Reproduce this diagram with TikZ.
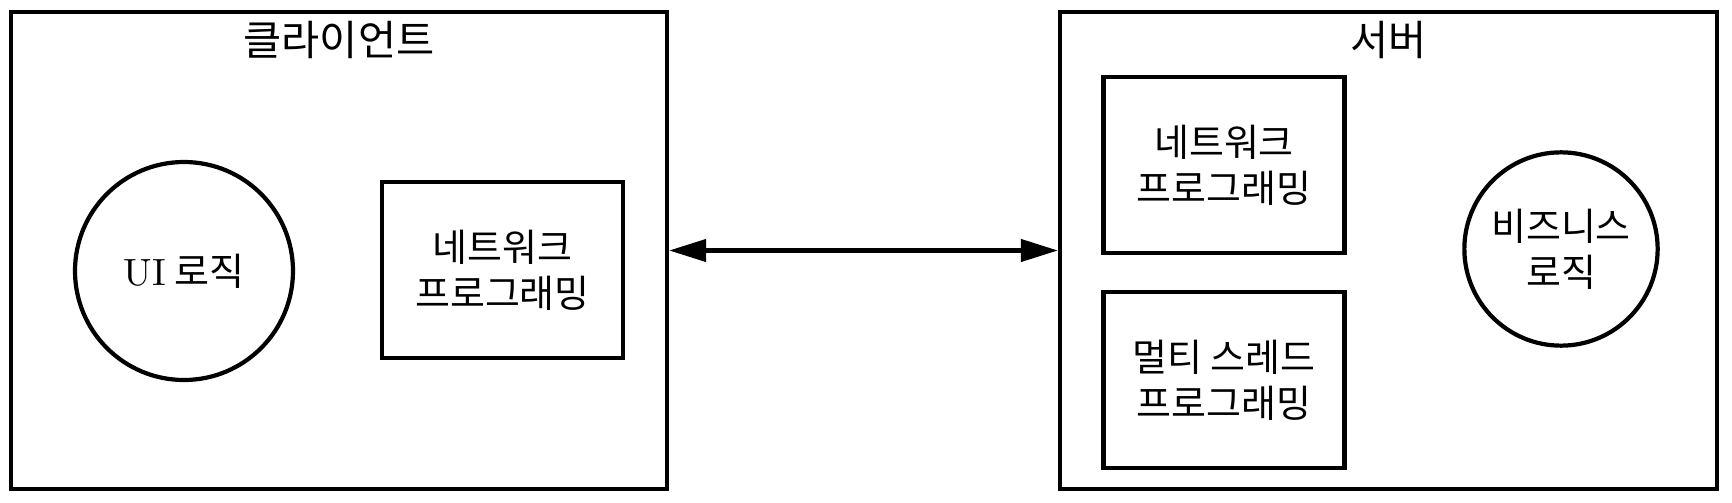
\documentclass[tikz,border=0pt]{standalone}
\usepackage{fontspec}
\newfontfamily\krfont{Noto Sans CJK KR}
\usetikzlibrary{arrows.meta,positioning}

\begin{document}
\begin{tikzpicture}
		\tikzstyle{tier}=[draw,very thick,minimum width=6.56cm,minimum height=4.77cm]
		\tikzstyle{title}=[font=\fontsize{11.8}{14}\selectfont\krfont]
		\tikzstyle{module}=[draw,very thick,minimum width=2.41cm,minimum height=1.76cm,align=center,font=\fontsize{10.8}{13.2}\selectfont\krfont]
		\tikzstyle{logic}=[draw,very thick,circle,align=center,font=\fontsize{10.8}{13.2}\selectfont\krfont]
		\tikzstyle{link}=[very thick,{Triangle[length=3.7mm,width=2.2mm]}-{Triangle[length=3.7mm,width=2.2mm]}]
		
		\useasboundingbox (0,0) rectangle (17.32,5.02);
		
		% Client side
		\node[tier] (client) at (3.39,2.515) {};
		\node[title] (clienttitle) at (3.39,4.62) {클라이언트};
		\node[logic, minimum size=2.18cm] (uilogic) at (1.84,2.31) {{\rmfamily UI} 로직};
		\node[module] (clientnet) at (5.025,2.32) {네트워크\\프로그래밍};
		
		% Server side
		\node[tier, minimum width=6.57cm] (server) at (13.885,2.515) {};
		\node[title] (servertitle) at (13.885,4.62) {서버};
		\node[module] (servernet) at (12.24,3.37) {네트워크\\프로그래밍};
		\node[module] (thread) at (12.24,1.22) {멀티 스레드\\프로그래밍};
		\node[logic, minimum size=1.90cm] (bizlogic) at (15.61,2.53) {비즈니스\\로직};
		
		\draw [link] (client) -- (server);
\end{tikzpicture}
\end{document}
